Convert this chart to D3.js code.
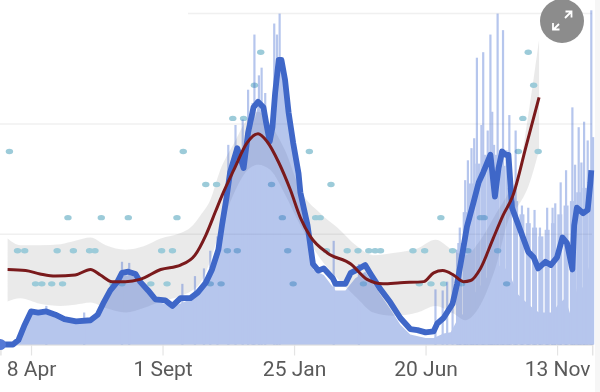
<!DOCTYPE html>
<html>
<head>
    <title>Daily cases</title>
    <style>
        html, body { margin: 0; padding: 0; background: #fff; overflow: hidden; }
        svg { display: block; filter: blur(0.6px); }
        .tick text { font-family: Roboto, sans-serif; font-size: 21px; fill: #5a5a5a; }
    </style>
    <script src="https://d3js.org/d3.v7.min.js"></script>
</head>
<body>
    <div id="chart"></div>
    <script>
        // x values are days since 5 Mar 2020
        var tickDays = [34, 180, 326, 472, 618];
        var tickLabels = ["8 Apr", "1 Sept", "25 Jan", "20 Jun", "13 Nov"];
        var gridValues = [100, 200, 300];

        var avgDays = [0,14,20,27,34,42,51,61,71,84,100,108,114,122,130,135,142,150,155,164,172,183,191,200,211,219,228,235,242,246,251,255,263,270,275,281,286,292,295,299,302,305,309,312,316,320,325,331,333,341,347,353,359,369,372,383,389,394,405,411,422,433,444,455,463,472,481,485,492,502,507,513,518,525,531,536,544,549,553,557,561,564,568,577,586,592,597,605,611,618,624,629,635,637,640,647,652,655,656];
        var avgValues = [0,0,4,18,30,29,30,27,23,21,22,27,37,49,57,65,66,64,57,49,41,40,35,42,42,47,56,68,86,108,133,156,178,160,192,215,220,215,201,184,197,228,258,258,240,210,183,155,138,108,73,67,69,60,55,55,65,67,72,64,50,38,24,14,13,11,12,19,24,37,55,83,107,128,147,156,172,134,160,175,172,172,124,104,84,79,69,75,72,79,97,92,68,108,124,119,122,147,158];

        var trendDays = [8,28,44,61,83,100,111,124,139,155,178,200,216,228,239,246,259,274,286,296,309,322,333,344,363,389,407,425,444,470,481,491,503,514,522,533,547,558,569,584,598];
        var trendValues = [68,67,64,62,63,68,63,57,57,59,68,72,81,99,121,135,158,183,191,184,165,140,115,98,83,73,59,55,56,57,65,67,63,57,58,69,96,117,135,181,224];

        var bandDays = [8,22,44,67,83,100,117,139,159,178,200,211,222,233,244,261,272,286,300,316,333,355,374,396,414,436,463,483,503,516,533,549,566,575,586,598];
        var bandLow = [39,42,37,35,36,38,33,29,33,39,44,48,56,76,104,140,156,163,158,136,108,78,60,42,29,26,29,35,28,22,36,68,117,126,143,176];
        var bandHigh = [96,90,90,91,94,97,90,86,89,96,101,106,117,131,158,185,202,211,199,176,140,119,106,89,81,83,87,95,85,81,95,117,140,154,208,276];

        var baseDays = [0,14,20,27,34,51,71,100,108,114,122,130,135,150,164,172,191,211,228,235,242,251,258,270,281,286,292,297,302,309,316,325,333,341,347,359,372,383,394,405,422,433,444,455,472,481,492,500,507,515,522,542,552,563,575,584,591,598,613,619,627,634,640,647,655,657];
        var baseValues = [0,0,3,17,29,29,22,20,26,36,49,56,63,62,49,40,34,41,55,67,84,131,167,176,199,217,208,181,194,253,235,176,131,99,68,63,49,49,60,66,45,32,18,9,6,6,10,11,22,29,42,63,72,68,45,38,33,29,29,36,42,24,51,52,75,75];

        var spikeDays = [51,93,135,143,202,216,226,233,241,253,261,269,275,280,282,287,290,294,304,307,310,370,398,483,491,496,502,507,510,516,519,523,526,529,534,536,541,544,546,548,552,555,558,562,565,572,579,586,593,599,607,613,616,622,628,635,638,642,645,648,652,656,658];
        var spikeValues = [35,29,75,74,55,62,69,85,98,181,199,204,231,219,281,244,251,228,291,281,300,94,73,50,49,57,63,86,106,149,167,178,187,260,199,265,194,281,211,181,300,176,285,176,208,194,126,124,122,106,124,124,128,147,158,215,163,197,165,202,185,303,188];

        var weekDays = [510,516,523,530,537,544,551,558,565,572,579,586,593,600,607,614,621,628,635,642,649,656];
        var weekValues = [92,120,146,164,172,172,172,162,142,130,118,110,106,98,104,110,118,126,130,138,142,146];

        var dotValues = [55,85,115,145,175,205,235,265];
        var dotDays = [
            [39,46,57,69,125,135,167,185,233,245,325,403,465,478,492,512,562],
            [19,27,63,81,99,105,179,191,252,263,319,362,385,397,409,416,422,458,471,502,519,552],
            [75,112,142,196,313,350,355,489,533,537],
            [228,240,301,367],
            [10,203,343,575,597],
            [258,270,580],
            [282,592],
            [289,586]
        ];

        var width = 600, height = 392;
        var startDate = new Date(2020, 2, 5);

        function dayToDate(d) { return d3.timeDay.offset(startDate, d); }

        var x = d3.scaleTime()
            .domain([dayToDate(0), dayToDate(657)])
            .range([0.4, 592.2]);

        var y = d3.scaleLinear()
            .domain([0, 300])
            .range([344.5, 13.6]);

        var svg = d3.select("#chart").append("svg")
            .attr("width", width)
            .attr("height", height);

        svg.append("rect")
            .attr("x", 595).attr("y", 0)
            .attr("width", 5).attr("height", height)
            .attr("fill", "#f6f6f6");

        // grid, the top line only starts near the first peak
        svg.selectAll(".grid")
            .data(gridValues)
            .enter().append("line")
            .attr("class", "grid")
            .attr("x1", function(d) { return d === 300 ? 188 : 0; })
            .attr("x2", 592)
            .attr("y1", function(d) { return y(d); })
            .attr("y2", function(d) { return y(d); })
            .attr("stroke", "#f0f0f0")
            .attr("stroke-width", 1.5);

        var axis = d3.axisBottom(x)
            .tickValues(tickDays.map(dayToDate))
            .tickSize(11)
            .tickPadding(6)
            .tickFormat(function(d, i) { return tickLabels[i]; });

        var axisG = svg.append("g")
            .attr("transform", "translate(0," + y(0) + ")")
            .call(axis);
        axisG.select(".domain").attr("stroke", "#e4e4e4").attr("stroke-width", 1.5);
        axisG.selectAll(".tick line").attr("stroke", "#e4e4e4").attr("stroke-width", 1.2);

        var band = d3.area()
            .curve(d3.curveMonotoneX)
            .x(function(d) { return x(dayToDate(d)); })
            .y0(function(d, i) { return y(bandLow[i]); })
            .y1(function(d, i) { return y(bandHigh[i]); });

        svg.append("path")
            .attr("d", band(bandDays))
            .attr("fill", "#808080")
            .attr("opacity", 0.17);

        // dots sit under the bars so they fade inside the blue
        dotValues.forEach(function(v, i) {
            svg.selectAll(".dot" + i)
                .data(dotDays[i])
                .enter().append("ellipse")
                .attr("class", "dot" + i)
                .attr("cx", function(d) { return x(dayToDate(d)); })
                .attr("cy", y(v))
                .attr("rx", 3.7)
                .attr("ry", 2.7)
                .attr("fill", "#9ccbd9");
        });

        // daily counts, group opacity so that overlaps stay flat
        var bars = svg.append("g").attr("opacity", 0.38).attr("fill", "#4169d0");

        var area = d3.area()
            .x(function(d) { return x(dayToDate(d)); })
            .y0(y(0))
            .y1(function(d, i) { return y(baseValues[i]); });

        bars.append("path").attr("d", area(baseDays));

        bars.selectAll(".week")
            .data(weekDays)
            .enter().append("rect")
            .attr("class", "week")
            .attr("x", function(d) { return x(dayToDate(d)) - 2.5; })
            .attr("width", 5)
            .attr("y", function(d, i) { return y(weekValues[i]); })
            .attr("height", function(d, i) { return y(0) - y(weekValues[i]); });

        bars.selectAll(".spike")
            .data(spikeDays)
            .enter().append("rect")
            .attr("class", "spike")
            .attr("x", function(d) { return x(dayToDate(d)) - 1.1; })
            .attr("width", 2.2)
            .attr("y", function(d, i) { return y(spikeValues[i]); })
            .attr("height", function(d, i) { return y(0) - y(spikeValues[i]); });

        var avgLine = d3.line()
            .x(function(d) { return x(dayToDate(d)); })
            .y(function(d, i) { return y(avgValues[i]); });

        svg.append("path")
            .attr("d", avgLine(avgDays))
            .attr("fill", "none")
            .attr("stroke", "#3f67c8")
            .attr("stroke-width", 5.8)
            .attr("stroke-linejoin", "round");

        svg.append("circle")
            .attr("cx", x(dayToDate(0)))
            .attr("cy", y(0))
            .attr("r", 5.5)
            .attr("fill", "#5579d6");

        var trendLine = d3.line()
            .curve(d3.curveMonotoneX)
            .x(function(d) { return x(dayToDate(d)); })
            .y(function(d, i) { return y(trendValues[i]); });

        svg.append("path")
            .attr("d", trendLine(trendDays))
            .attr("fill", "none")
            .attr("stroke", "#7a1a1c")
            .attr("stroke-width", 3);

        // expand button
        var button = svg.append("g").attr("transform", "translate(562,21)");
        button.append("circle").attr("r", 22).attr("fill", "#8c8c8c");
        button.append("path")
            .attr("d", "M3,-3L9,-9M3.5,-9.5H9.5V-3.5M-3,3L-8.5,8.5M-9,2V8.5H-2.5")
            .attr("fill", "none")
            .attr("stroke", "#fff")
            .attr("stroke-width", 1.8);
    </script>
</body>
</html>
